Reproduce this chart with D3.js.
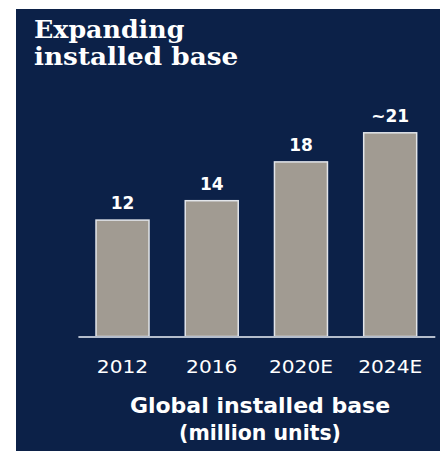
<!DOCTYPE html>
<html>
<head>
<meta charset="utf-8">
<script src="https://cdn.jsdelivr.net/npm/d3@7"></script>
<style>
  html, body { margin: 0; padding: 0; background: #ffffff; }
  svg { display: block; }
</style>
</head>
<body>
<svg id="chart" width="443" height="451"></svg>
<script>
// Installed base by year (million units)
const years = ["2012", "2016", "2020E", "2024E"];
const installedBase = [12, 14, 18, 21];
const valueLabels = ["12", "14", "18", "~21"];
const titleLines = ["Expanding", "installed base"];
const axisTitleLines = ["Global installed base", "(million units)"];

const svg = d3.select("#chart");

// widen or narrow a text element by a factor of its natural length
function stretch(sel, factor) {
  sel.each(function () {
    const w = this.getComputedTextLength();
    d3.select(this)
      .attr("textLength", w * factor)
      .attr("lengthAdjust", "spacingAndGlyphs");
  });
}

// dark panel behind everything
svg.append("rect")
  .attr("x", 16).attr("y", 9)
  .attr("width", 424).attr("height", 442)
  .attr("fill", "#0c2148");

// headline, one text per line
const titles = svg.append("g")
  .selectAll("text")
  .data(titleLines)
  .join("text")
  .attr("x", 34)
  .attr("y", (d, i) => 37.5 + i * 27.5)
  .attr("fill", "#ffffff")
  .attr("font-family", "'DejaVu Serif', serif")
  .attr("font-weight", "bold")
  .attr("font-size", 24)
  .text(d => d);
stretch(titles.filter((d, i) => i === 0), 1.055);
stretch(titles.filter((d, i) => i === 1), 1.095);

const x = d3.scaleBand()
  .domain(years)
  .range([77.9, 434.8])
  .paddingInner(0.406)
  .paddingOuter(0.203);

const y = d3.scaleLinear()
  .domain([0, 21])
  .range([336.5, 132.8]);

const data = years.map((yr, i) => ({ year: yr, value: installedBase[i], label: valueLabels[i] }));

// bars
svg.append("g")
  .selectAll("rect")
  .data(data)
  .join("rect")
  .attr("x", d => x(d.year))
  .attr("y", d => y(d.value))
  .attr("width", x.bandwidth())
  .attr("height", d => y(0) - y(d.value))
  .attr("fill", "#a19b92")
  .attr("stroke", "#e2e5ea")
  .attr("stroke-width", 1.5);

// value labels above bars
svg.append("g")
  .selectAll("text")
  .data(data)
  .join("text")
  .attr("x", d => x(d.year) + x.bandwidth() / 2)
  .attr("y", d => y(d.value) - 11)
  .attr("text-anchor", "middle")
  .attr("fill", "#ffffff")
  .attr("font-family", "'DejaVu Sans', sans-serif")
  .attr("font-weight", "bold")
  .attr("font-size", 17)
  .text(d => d.label);

// category axis with baseline
const axis = svg.append("g")
  .attr("transform", `translate(0,${y(0)})`)
  .call(d3.axisBottom(x).tickSize(0).tickPadding(23.5).tickSizeOuter(0));
axis.select(".domain")
  .attr("stroke", "#b4bdcc")
  .attr("stroke-width", 2);
axis.selectAll(".tick text")
  .attr("fill", "#ffffff")
  .attr("font-family", "'DejaVu Sans', sans-serif")
  .attr("font-size", 18)
  .attr("dy", "0.71em");
stretch(axis.selectAll(".tick text"), 1.12);

// axis title
const axisTitles = svg.append("g")
  .selectAll("text")
  .data(axisTitleLines)
  .join("text")
  .attr("x", 260)
  .attr("y", (d, i) => 413 + i * 27)
  .attr("text-anchor", "middle")
  .attr("fill", "#ffffff")
  .attr("font-family", "'DejaVu Sans', sans-serif")
  .attr("font-weight", "bold")
  .attr("font-size", 22)
  .text(d => d);
stretch(axisTitles.filter((d, i) => i === 1), 0.93);
</script>
</body>
</html>
